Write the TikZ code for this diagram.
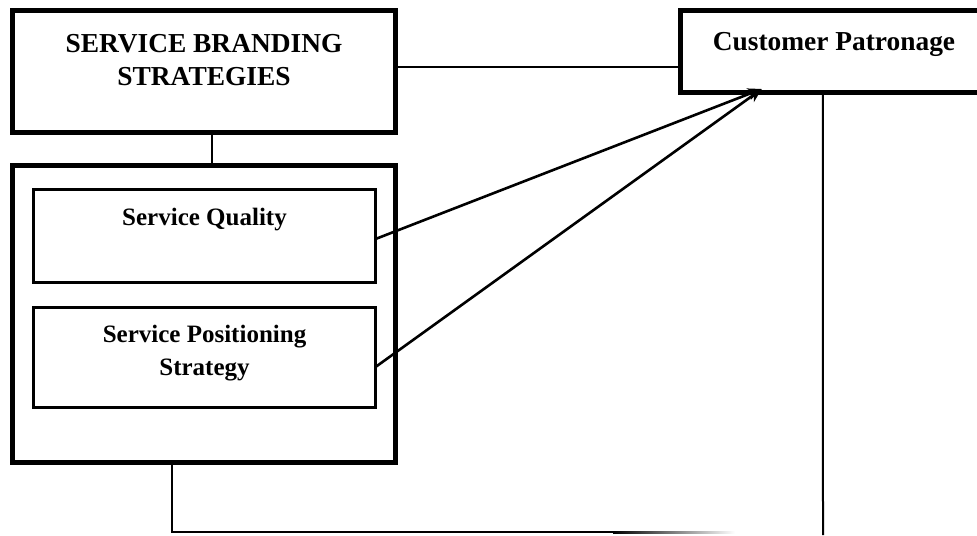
\documentclass[tikz,border=0pt]{standalone}
\usepackage{fontspec}
\setmainfont{Liberation Serif}
\usepackage{tikz}
\usetikzlibrary{arrows.meta}
\usetikzlibrary{positioning}
\tikzstyle{outerbox}=[draw,line width=2.5pt,minimum width=191.5pt,inner sep=0pt,outer sep=0pt]
\tikzstyle{innerbox}=[draw,line width=1.5pt,minimum width=171pt,inner sep=0pt,outer sep=0pt]
\tikzstyle{bigtext}=[inner sep=0pt,align=center,font=\fontsize{13.7}{16.5}\selectfont\bfseries]
\tikzstyle{smalltext}=[inner sep=0pt,align=center,font=\fontsize{12.5}{16.5}\selectfont\bfseries]
\tikzstyle{link}=[line width=1pt]

\begin{document}
\begin{tikzpicture}[x=0.5pt,y=-0.5pt]
\tikzstyle{pointer}=[line width=1.3pt,-{Stealth[length=7pt,width=6pt]}]
\useasboundingbox (0,0) rectangle (977,535);
\clip (0,0) rectangle (977,535);
  \node [outerbox,minimum height=61pt] (sbs) at (204,71.5) {};
  \node [outerbox,minimum height=148.5pt] (group) at (204,314) {};
  \node [innerbox,minimum height=46.25pt] (quality) at (204.5,236) {};
  \node [innerbox,minimum height=50pt] (position) at (204.5,357) {};
  \node [outerbox,minimum width=159.75pt,minimum height=40.75pt] (cp) at (840,51.75) {};

  \node [bigtext,below=11.5pt of sbs.north] (sbstext) {SERVICE BRANDING\\STRATEGIES};
  \node [smalltext,below=9pt of quality.north] (qtext) {Service Quality};
  \node [smalltext,below=9pt of position.north] (ptext) {Service Positioning\\Strategy};
  \node [bigtext,anchor=north] (cptext) at (834,32) {Customer Patronage};

\coordinate (tip) at ([xshift=40.75pt,yshift=1.75pt]cp.south west);
\coordinate (cpfoot) at ([xshift=71.25pt]cp.south west);
\coordinate (cpend) at (823,535);
\coordinate (turn) at (172,532);
\coordinate (fade) at (613,532);
\coordinate (fadeend) at (735,532);

\draw [link] ([xshift=4pt]sbs.south) -- ([xshift=4pt]group.north);
\draw [link] ([yshift=2.25pt]sbs.east) -- ([yshift=2.25pt]sbs.east -| cp.west);
\draw [pointer] ([yshift=-1.5pt]quality.east) -- (tip);
\draw [pointer] ([yshift=-5pt]position.east) -- (tip);
\draw [link] (cpfoot) -- (cpend);
\draw [link] (group.south -| turn) -- (turn) -- (fade);
%\draw [link,dashed] (fade) -- (fadeend);
\shade [left color=black,right color=white] ([yshift=0.5pt]fade) rectangle ([yshift=-0.5pt]fadeend);
\end{tikzpicture}
\end{document}
